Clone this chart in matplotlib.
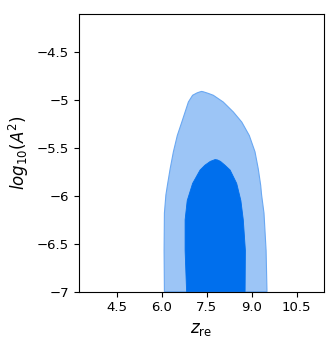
import matplotlib
matplotlib.use("Agg")
import matplotlib.pyplot as plt

# outer (95%) contour boundary: z_re, log10(A^2)
outer_z = [6.09, 6.08, 6.09, 6.14, 6.19, 6.28, 6.39, 6.52, 6.67, 6.78, 6.89, 7.03, 7.18, 7.28, 7.33,
           7.39, 7.55, 7.72, 8.05, 8.39, 8.67, 8.92, 9.11, 9.22, 9.30, 9.33, 9.41, 9.48, 9.51]
outer_y = [-7.0, -6.57, -6.18, -5.99, -5.89, -5.72, -5.54, -5.37, -5.23, -5.125, -5.02, -4.95, -4.925, -4.914, -4.91,
           -4.914, -4.93, -4.95, -5.02, -5.125, -5.23, -5.37, -5.54, -5.72, -5.89, -5.99, -6.18, -6.57, -7.0]

# inner (68%) contour boundary
inner_z = [6.83, 6.78, 6.78, 6.85, 7.03, 7.28, 7.44, 7.62, 7.72, 7.78,
           7.86, 7.96, 8.11, 8.28, 8.50, 8.64, 8.72, 8.79, 8.78]
inner_y = [-7.0, -6.57, -6.25, -6.05, -5.87, -5.73, -5.68, -5.64, -5.628, -5.621,
           -5.625, -5.64, -5.68, -5.73, -5.87, -6.05, -6.25, -6.57, -7.0]

xticks = [4.5, 6.0, 7.5, 9.0, 10.5]
xticklabels = ["4.5", "6.0", "7.5", "9.0", "10.5"]
yticks = [-7, -6.5, -6, -5.5, -5, -4.5]
yticklabels = ["\u22127", "\u22126.5", "\u22126", "\u22125.5", "\u22125", "\u22124.5"]

fig = plt.figure(figsize=(3.33, 3.46), dpi=100)
ax = fig.add_axes([0.237, 0.157, 0.735, 0.803])

ax.fill(outer_z, outer_y, facecolor="#9cc5f6", edgecolor="#6aa8f2", lw=0.8, zorder=1)
ax.fill(inner_z, inner_y, facecolor="#006fed", edgecolor="#006fed", lw=0.6, zorder=2)

ax.set_xlim(3.24, 11.4)
ax.set_ylim(-7, -4.1)
ax.set_xticks(xticks)
ax.set_xticklabels(xticklabels)
ax.set_yticks(yticks)
ax.set_yticklabels(yticklabels)
ax.tick_params(labelsize=9.5, length=3.5)

ax.set_xlabel(r"$z_{\rm re}$", fontsize=12)
ax.set_ylabel(r"$log_{10}(A^2)$", fontsize=12)

fig.savefig("out.png", dpi=100)
